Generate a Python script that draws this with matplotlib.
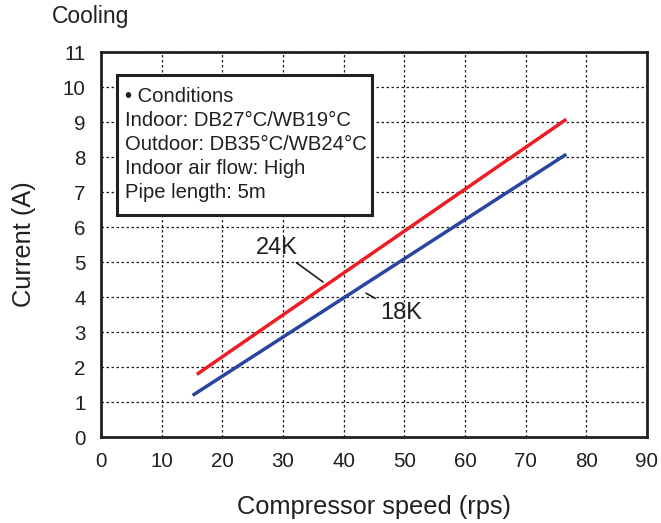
import matplotlib
matplotlib.use("Agg")
import matplotlib.pyplot as plt

plt.rcParams['font.family'] = ['Liberation Sans', 'DejaVu Sans']

speed_24k = [15.8, 76.7]
current_24k = [1.79, 9.08]
speed_18k = [15.1, 76.7]
current_18k = [1.19, 8.08]
x_ticks = [0, 10, 20, 30, 40, 50, 60, 70, 80, 90]
y_ticks = list(range(0, 12))
conditions = ["• Conditions", "Indoor: DB27°C/WB19°C", "Outdoor: DB35°C/WB24°C",
              "Indoor air flow: High", "Pipe length: 5m"]

fig = plt.figure(figsize=(6.61, 5.23), dpi=100)
ax = fig.add_axes([0.1528, 0.1644, 0.826, 0.736])
ax.set_xlim(0, 90)
ax.set_ylim(0, 11)
ax.set_xticks(x_ticks)
ax.set_yticks(y_ticks)
ax.tick_params(length=0, labelsize=14.8, colors='#231f20')
ax.tick_params(axis='x', pad=11)
ax.tick_params(axis='y', pad=11)
ax.grid(True, linestyle=(0, (2, 2)), color='#231f20', linewidth=0.9)
for s in ax.spines.values():
    s.set_linewidth(2)
    s.set_color('#231f20')

ax.plot(speed_24k, current_24k, color='#ee1c24', lw=2.5, solid_capstyle='butt', zorder=3)
ax.plot(speed_18k, current_18k, color='#2a45a0', lw=2.5, solid_capstyle='butt', zorder=3)

ax.annotate("24K", xy=(36.6, 4.43), xytext=(28.9, 5.4), fontsize=17, ha='center', va='center',
            color='#231f20', arrowprops=dict(arrowstyle='-', color='#231f20', lw=1.2, shrinkA=1, shrinkB=0))
ax.annotate("18K", xy=(43.7, 4.11), xytext=(49.5, 3.54), fontsize=17, ha='center', va='center',
            color='#231f20', arrowprops=dict(arrowstyle='-', color='#231f20', lw=1.2, shrinkA=2, shrinkB=0))

box = plt.Rectangle((0.030, 0.577), 0.466, 0.363, transform=ax.transAxes, facecolor='white',
                    edgecolor='#231f20', lw=2.2, zorder=4)
ax.add_patch(box)
for i, line in enumerate(conditions):
    ax.text(0.044, 0.885 - i * 0.0625, line, transform=ax.transAxes, fontsize=14.6, va='center',
            ha='left', color='#231f20', zorder=5)

ax.set_xlabel("Compressor speed (rps)", fontsize=18.3, labelpad=17, color='#231f20')
ax.set_ylabel("Current (A)", fontsize=18.3, labelpad=19, color='#231f20')
fig.text(52 / 661, 1 - 17 / 523, "Cooling", fontsize=16.5, va='center', ha='left', color='#231f20')

fig.savefig("out.png", dpi=100)
